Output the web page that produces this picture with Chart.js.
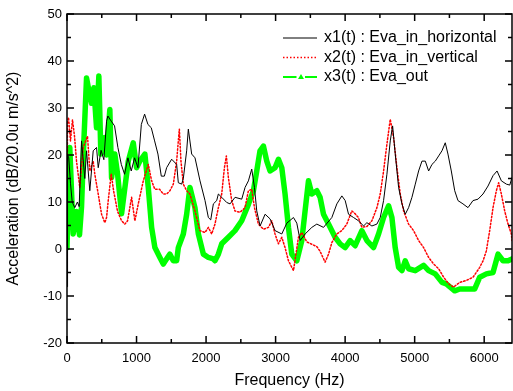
<!DOCTYPE html>
<html>
<head>
<meta charset="utf-8">
<script src="https://cdn.jsdelivr.net/npm/chart.js@4/dist/chart.umd.min.js"></script>
<style>
    html, body { margin: 0; padding: 0; background: #fff; }
    #wrap { width: 513px; height: 391px; }
</style>
</head>
<body>
<div id="wrap"><canvas id="spectrumChart" width="513" height="391"></canvas></div>
<script>
// Series (Hz, dB)
const seriesLabels = ['x1(t) : Eva_in_horizontal', 'x2(t) : Eva_in_vertical', 'x3(t) : Eva_out'];

const x1Freq = [0, 8, 25, 50, 75, 112, 150, 175, 209, 256, 281, 328, 377, 425, 449, 490, 530, 569, 588, 636, 684, 732, 781, 828, 876, 924, 972, 1020, 1069, 1116, 1164, 1212, 1260, 1308, 1356, 1400, 1433, 1505, 1577, 1601, 1649, 1673, 1721, 1745, 1793, 1841, 1913, 1985, 2033, 2067, 2105, 2153, 2177, 2225, 2297, 2345, 2417, 2513, 2561, 2609, 2657, 2696, 2729, 2777, 2849, 2921, 2993, 3089, 3161, 3257, 3305, 3353, 3425, 3521, 3593, 3689, 3809, 3881, 3953, 4001, 4049, 4121, 4193, 4265, 4313, 4385, 4457, 4505, 4553, 4601, 4649, 4683, 4721, 4769, 4817, 4865, 4913, 4961, 5009, 5057, 5105, 5153, 5201, 5249, 5297, 5345, 5393, 5440, 5479, 5527, 5576, 5623, 5695, 5767, 5839, 5911, 5983, 6055, 6127, 6185, 6247, 6319, 6368, 6400];
const x1Db = [-8, 20, 19.4, 14, 10, 8.8, 10, 9, 23, 15, 20.9, 12.4, 20.9, 21.6, 17.3, 21, 19, 27.2, 28.3, 27.2, 26.2, 21.6, 18, 15.9, 19.4, 16.6, 19.4, 17.3, 26.5, 28.7, 26.5, 25.8, 23, 20.2, 15.5, 15.5, 17.3, 19.1, 18, 14.1, 13.8, 15, 20.9, 25.5, 20.2, 19.4, 14.5, 10.3, 6.7, 6.2, 9.6, 10.3, 11.7, 11.0, 9.9, 9.6, 11.0, 10.6, 13.1, 14.5, 17, 13.1, 8.1, 4.9, 7.4, 6.4, 3.9, 3.2, 5.5, 6.7, 5.5, 1.8, 3.2, 4.6, 5.3, 4.6, 6.7, 9.6, 11.3, 10.3, 7.4, 6.7, 6.0, 4.9, 5.6, 4.9, 5.3, 6.7, 10.3, 15.9, 23, 26.2, 20.2, 13.1, 9.6, 7.4, 8.8, 11.0, 13.8, 16.6, 18.7, 18.7, 16.6, 18, 18.7, 19.8, 20.9, 22.6, 20.2, 16.6, 12.4, 10.3, 9.6, 8.8, 10.3, 10.6, 11.7, 13.4, 15.6, 16.6, 14.5, 13.8, 13.6, 15.2];

const x2Freq = [0, 7, 22, 50, 79, 108, 137, 184, 233, 295, 328, 377, 400, 449, 497, 544, 569, 593, 636, 670, 727, 785, 832, 871, 929, 976, 1025, 1097, 1169, 1217, 1264, 1332, 1385, 1433, 1480, 1529, 1577, 1601, 1616, 1639, 1673, 1721, 1768, 1840, 1912, 1984, 2033, 2081, 2128, 2177, 2225, 2264, 2292, 2321, 2369, 2416, 2488, 2560, 2609, 2657, 2696, 2753, 2825, 2897, 2945, 2992, 3041, 3089, 3136, 3185, 3257, 3329, 3377, 3450, 3521, 3593, 3640, 3712, 3761, 3810, 3880, 3952, 4024, 4096, 4144, 4190, 4241, 4313, 4385, 4457, 4505, 4553, 4601, 4649, 4697, 4745, 4793, 4841, 4913, 4985, 5057, 5129, 5201, 5273, 5345, 5417, 5488, 5560, 5648, 5743, 5840, 5936, 5984, 6031, 6079, 6127, 6175, 6208, 6247, 6295, 6343, 6391, 6400];
const x2Db = [-6, 27, 28, 23, 27.5, 24, 18.7, 13.1, 21.6, 24, 16.6, 18.7, 15.9, 11.7, 7.4, 5.6, 6.7, 10.3, 16, 12.4, 8, 6, 5.3, 6, 11.0, 6.0, 9.6, 14.5, 18, 14.5, 12.7, 12.7, 11.7, 11.7, 12.4, 13.8, 18.7, 23, 25.5, 18.7, 13.8, 12.4, 11.7, 8.1, 3.9, 3.5, 4.6, 3.2, 5.3, 8.8, 11.7, 17.3, 19.8, 15.2, 10.3, 8.1, 7.8, 8.8, 12.4, 12.7, 8.8, 5.3, 4.2, 4.6, 6.0, 3.2, 1.1, 2.5, 0.3, -2.5, -4.6, 2.5, 3.5, 1.5, 1.0, 0.5, -0.5, -2.8, -1.1, 1.4, 3.2, 3.9, 5.3, 8.1, 7.5, 6.7, 4.6, 4.8, 6.0, 8.8, 11.7, 16.6, 22.3, 27.6, 23.7, 17.3, 11.7, 8.1, 5.3, 3.9, 1.8, 0.3, -1.8, -3.2, -4.2, -6.0, -7.4, -8.1, -7.1, -6.7, -6.0, -3.9, -2.5, -0.4, 3.9, 8.8, 12.4, 14.1, 11.7, 8.1, 5.3, 3.2, 1.8];

const x3Freq = [0, 40, 89, 137, 180, 209, 240, 281, 324, 353, 386, 425, 458, 487, 544, 569, 616, 641, 688, 727, 785, 881, 953, 1001, 1048, 1120, 1169, 1217, 1264, 1336, 1385, 1433, 1480, 1529, 1577, 1601, 1673, 1721, 1768, 1840, 1889, 1961, 2033, 2105, 2128, 2177, 2225, 2321, 2416, 2513, 2609, 2681, 2729, 2776, 2825, 2873, 2920, 2992, 3041, 3089, 3136, 3185, 3233, 3305, 3377, 3424, 3473, 3521, 3593, 3640, 3689, 3761, 3856, 3928, 4000, 4072, 4144, 4241, 4313, 4409, 4481, 4553, 4625, 4673, 4720, 4769, 4817, 4864, 4913, 5008, 5129, 5201, 5296, 5393, 5455, 5576, 5648, 5743, 5864, 5936, 6031, 6127, 6199, 6271, 6343, 6400];
const x3Db = [0.3, 21.6, 3.2, 8, 3, 9, 22, 36.4, 33, 31, 34.3, 25.8, 36.8, 20.2, 23.7, 20, 29.7, 15.2, 20.2, 16, 7.5, 18.7, 22.6, 17.3, 18.7, 20.2, 13.1, 4.6, 0.3, -1.8, -3.2, -2.1, -1.1, -2.5, -2.5, 0.3, 3.2, 7.4, 13.1, 8.8, 3.2, -1.1, -1.8, -2.1, -2.5, -1.1, 1.1, 2.5, 3.9, 6.0, 9.5, 12.4, 16.6, 20.9, 21.9, 18.7, 16.6, 17.3, 19.1, 17.3, 11.7, 4.6, -1.1, -2.5, 1.8, 8.1, 14.5, 11.7, 12.4, 11.0, 7.4, 5.3, 2.5, 1.1, 0.3, 1.8, 0.7, 3.9, 1.8, 0.3, 3.2, 6.7, 9.2, 6.7, 0.3, -3.9, -4.6, -2.5, -4.2, -4.6, -3.5, -4.6, -5.3, -7.1, -7.4, -8.9, -8.5, -8.5, -8.5, -6.0, -5.3, -5.0, -1.1, -2.5, -2.5, -2.1];

const xTicks = [0, 1000, 2000, 3000, 4000, 5000, 6000];
const yTicks = [-20, -10, 0, 10, 20, 30, 40, 50];
const xRange = [0, 6400];
const yRange = [-20, 50];
const xTitle = 'Frequency (Hz)';
const yTitle = 'Acceleration (dB/20.0u m/s^2)';

const FONT = '"Liberation Sans", Arial, Helvetica, sans-serif';

// Helpers
function toPoints(freq, db) {
    return freq.map((f, i) => ({ x: f, y: db[i] }));
}

// Frame with inward major/minor ticks on all four sides (Origin style)
const frameTicks = {
    id: 'frameTicks',
    afterDraw(chart) {
        const { ctx, chartArea: a, scales } = chart;
        const xs = scales.x, ys = scales.y;
        ctx.save();
        ctx.strokeStyle = '#000';
        ctx.lineWidth = 1.5;
        ctx.strokeRect(a.left, a.top, a.right - a.left, a.bottom - a.top);

        ctx.beginPath();
        for (let v = xs.min; v <= xs.max; v += 500) {
            const len = v % 1000 === 0 ? 7 : 4;
            const px = xs.getPixelForValue(v);
            ctx.moveTo(px, a.bottom); ctx.lineTo(px, a.bottom - len);
            ctx.moveTo(px, a.top); ctx.lineTo(px, a.top + len);
        }
        for (let v = ys.min; v <= ys.max; v += 5) {
            const len = v % 10 === 0 ? 7 : 4;
            const py = ys.getPixelForValue(v);
            ctx.moveTo(a.left, py); ctx.lineTo(a.left + len, py);
            ctx.moveTo(a.right, py); ctx.lineTo(a.right - len, py);
        }
        ctx.stroke();
        ctx.restore();
    }
};

// Legend drawn inside the plot, top right
const insideLegend = {
    id: 'insideLegend',
    afterDraw(chart) {
        const ctx = chart.ctx;
        const rows = [38, 57.5, 77];
        const x0 = 283, x1 = 317, textX = 324;
        ctx.save();
        chart.data.datasets.forEach((ds, i) => {
            const y = rows[i];
            ctx.strokeStyle = ds.borderColor;
            ctx.fillStyle = ds.borderColor;
            ctx.beginPath();
            if (i === 2) {
                // dashed green sample with a triangle marker
                ctx.lineWidth = 2;
                ctx.setLineDash([]);
                ctx.moveTo(x0, y); ctx.lineTo(x0 + 13.5, y);
                ctx.moveTo(x1 - 12, y); ctx.lineTo(x1, y);
                ctx.stroke();
                ctx.beginPath();
                ctx.moveTo(301, y - 3); ctx.lineTo(304, y + 2); ctx.lineTo(298, y + 2);
                ctx.closePath();
                ctx.fill();
            } else {
                ctx.lineWidth = ds.borderWidth;
                ctx.setLineDash(ds.borderDash || []);
                ctx.moveTo(x0, y); ctx.lineTo(x1, y);
                ctx.stroke();
            }
            ctx.setLineDash([]);
            ctx.fillStyle = '#000';
            ctx.font = '16px ' + FONT;
            ctx.textBaseline = 'middle';
            ctx.textAlign = 'left';
            ctx.fillText(ds.label, textX, y);
        });
        ctx.restore();
    }
};

function initializeChart() {
    const ctx = document.getElementById('spectrumChart').getContext('2d');
    window.spectrumChart = new Chart(ctx, {
        type: 'line',
        data: {
            datasets: [{
                label: seriesLabels[0],
                data: toPoints(x1Freq, x1Db),
                borderColor: '#000000',
                borderWidth: 1,
                order: 1
            }, {
                label: seriesLabels[1],
                data: toPoints(x2Freq, x2Db),
                borderColor: '#ff0000',
                borderWidth: 1.5,
                borderDash: [1.5, 2],
                order: 2
            }, {
                label: seriesLabels[2],
                data: toPoints(x3Freq, x3Db),
                borderColor: '#00ff00',
                borderWidth: 5.5,
                order: 3
            }]
        },
        options: {
            responsive: false,
            animation: false,
            devicePixelRatio: 1,
            datasets: {
                line: {
                    pointRadius: 0,
                    tension: 0,
                    clip: 0,
                    borderJoinStyle: 'round',
                    borderCapStyle: 'round'
                }
            },
            layout: {
                padding: { top: 14, right: 1, left: 0, bottom: 0 }
            },
            plugins: {
                legend: { display: false },
                tooltip: { enabled: false }
            },
            scales: {
                x: {
                    type: 'linear',
                    min: xRange[0],
                    max: xRange[1],
                    afterFit: s => { s.height = 48; },
                    afterBuildTicks: s => { s.ticks = xTicks.map(v => ({ value: v })); },
                    ticks: {
                        autoSkip: false,
                        maxRotation: 0,
                        padding: 8,
                        color: '#000',
                        font: { family: FONT, size: 13 },
                        callback: v => String(v)
                    },
                    grid: { display: false, drawTicks: false },
                    border: { display: false },
                    title: {
                        display: true,
                        text: xTitle,
                        color: '#000',
                        font: { family: FONT, size: 16 },
                        padding: { top: 0, bottom: 1 }
                    }
                },
                y: {
                    type: 'linear',
                    min: yRange[0],
                    max: yRange[1],
                    afterFit: s => { s.width = 67; },
                    afterBuildTicks: s => { s.ticks = yTicks.map(v => ({ value: v })); },
                    ticks: {
                        autoSkip: false,
                        padding: 5,
                        color: '#000',
                        font: { family: FONT, size: 13 },
                        callback: v => String(v)
                    },
                    grid: { display: false, drawTicks: false },
                    border: { display: false },
                    title: {
                        display: true,
                        text: yTitle,
                        color: '#000',
                        font: { family: FONT, size: 16 },
                        padding: { top: 4, bottom: 0 }
                    }
                }
            }
        },
        plugins: [frameTicks, insideLegend]
    });
}

initializeChart();
</script>
</body>
</html>
